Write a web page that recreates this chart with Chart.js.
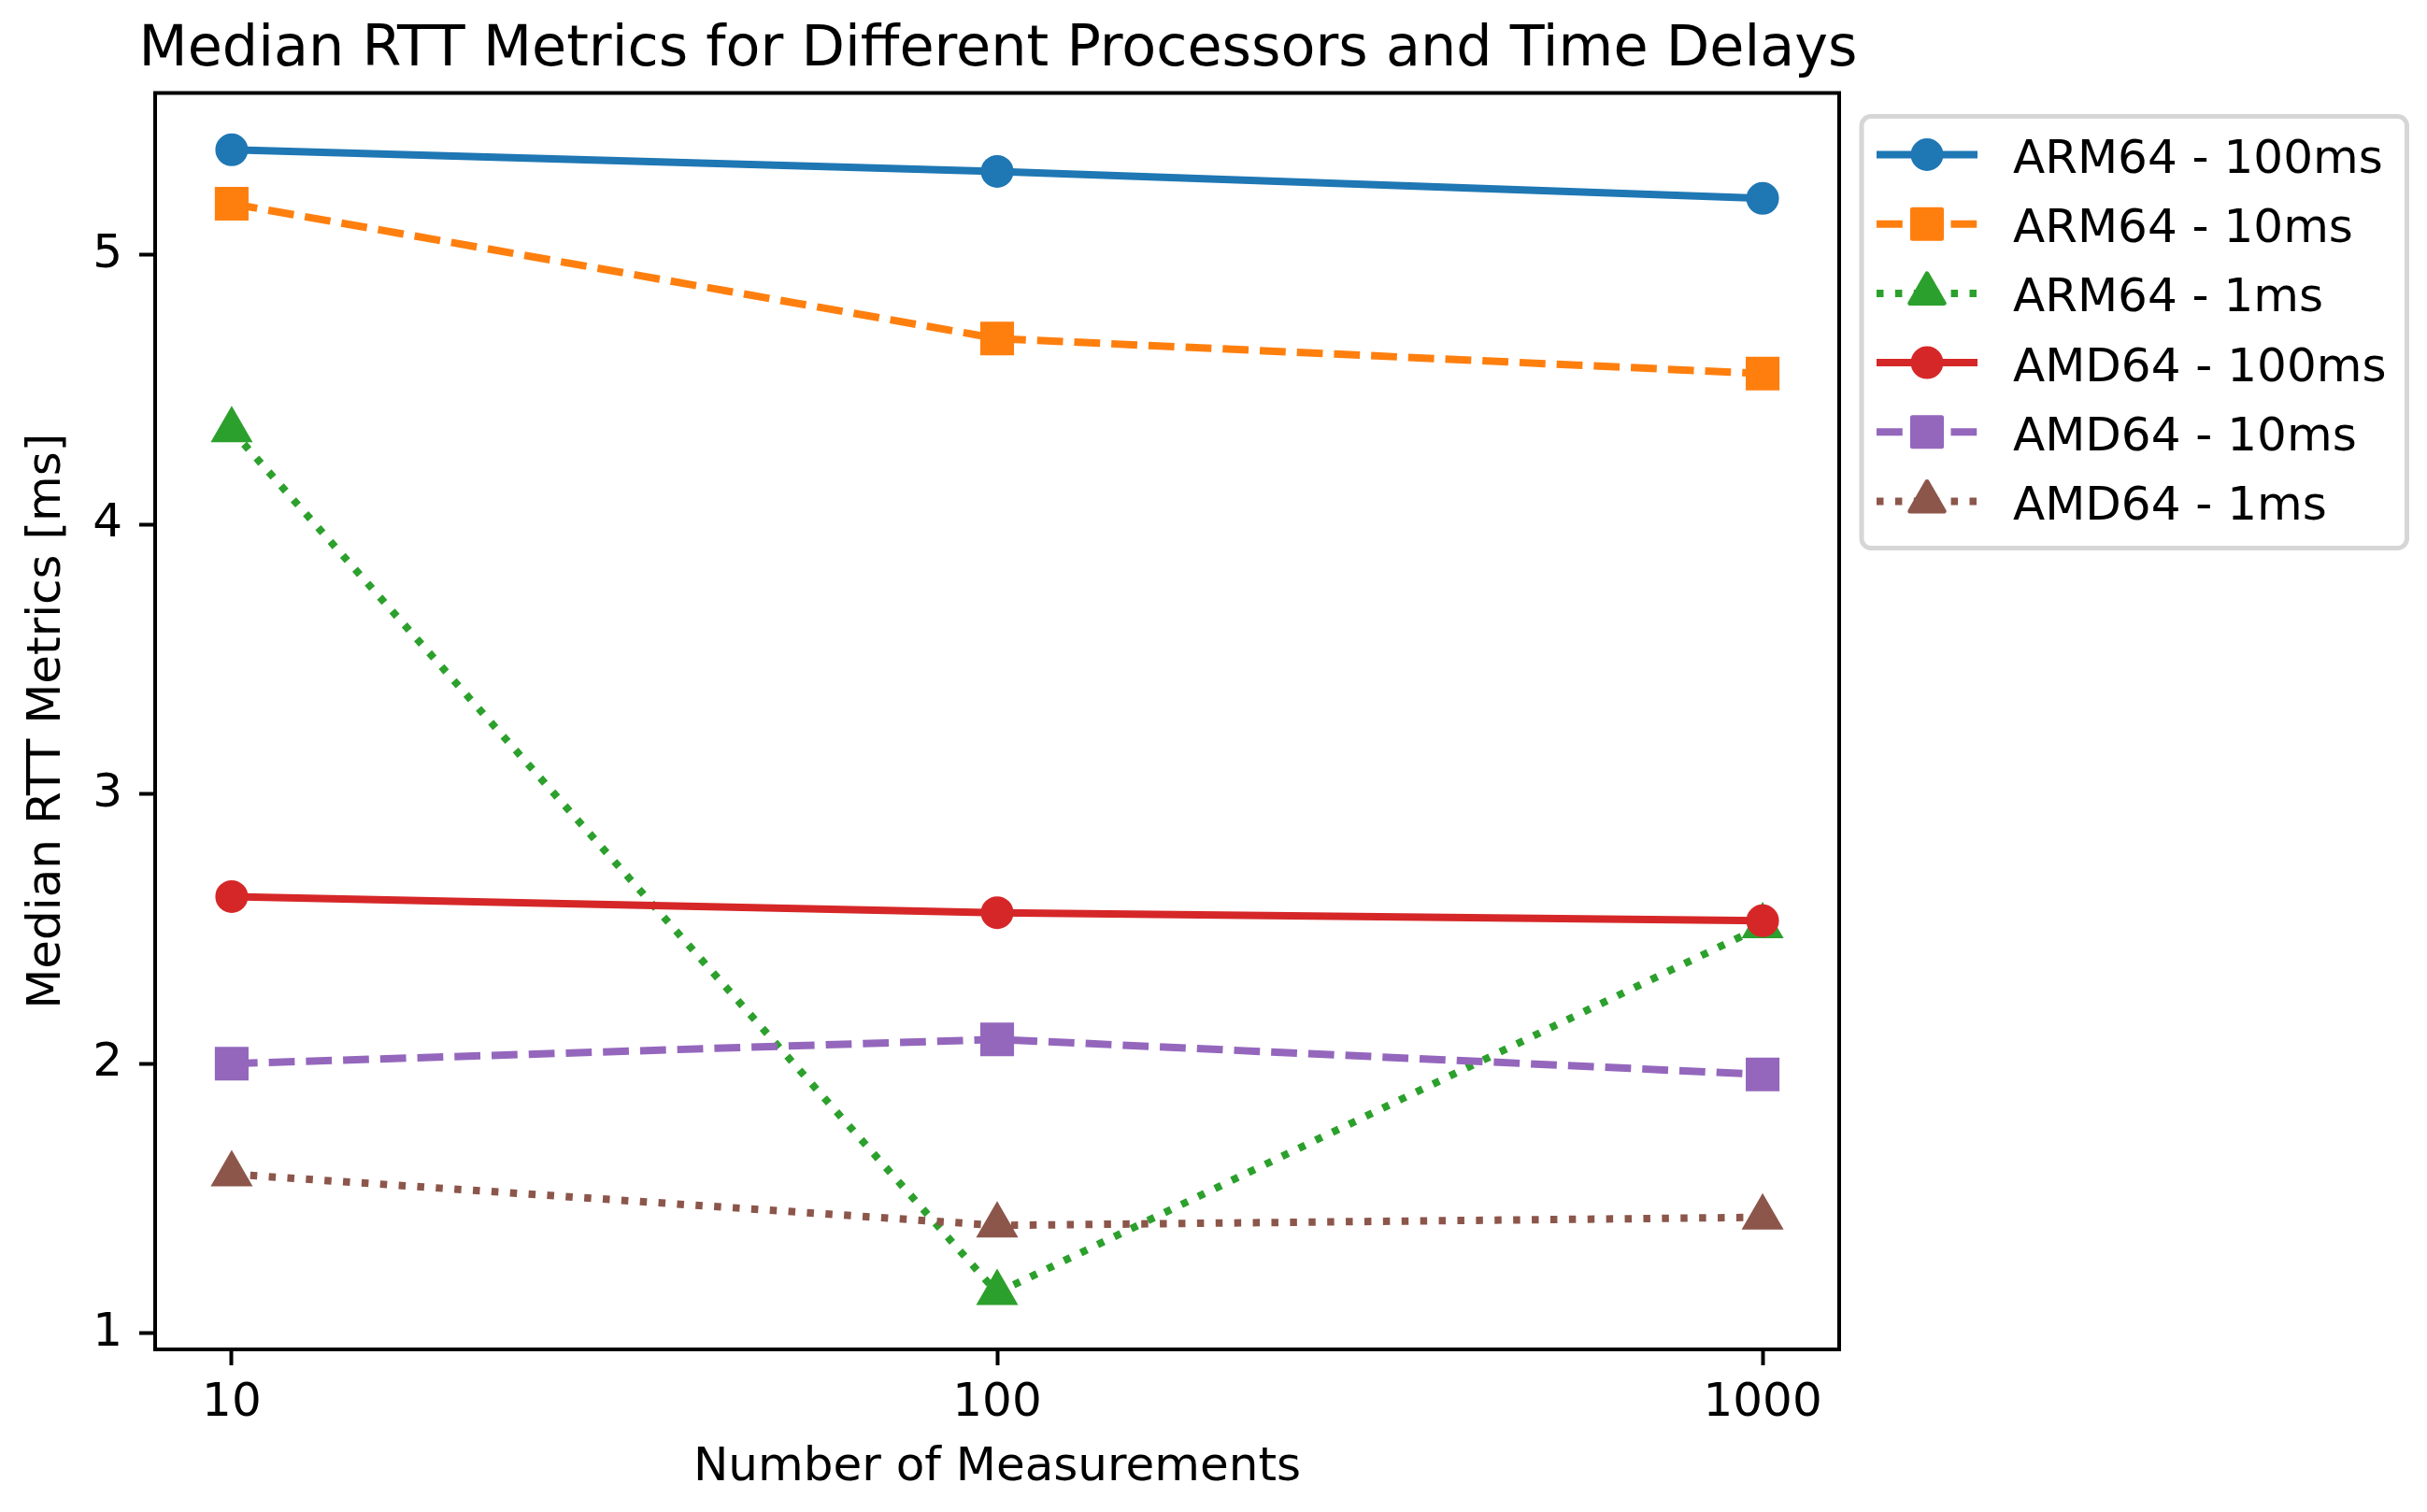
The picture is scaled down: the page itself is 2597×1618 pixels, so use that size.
<!DOCTYPE html>
<html>
<head>
<meta charset="utf-8">
<title>Median RTT Metrics</title>
<script src="https://cdn.jsdelivr.net/npm/chart.js@4.4.1/dist/chart.umd.min.js"></script>
<style>
    html, body { margin: 0; padding: 0; background: #fff; }
    canvas { display: block; }
</style>
</head>
<body>
<canvas id="rttChart" width="2597" height="1618"></canvas>
<script>
// Datos
const medidas = [10, 100, 1000];
const arm64_100ms = [5.39, 5.31, 5.21];
const arm64_10ms = [5.19, 4.69, 4.56];
const arm64_1ms = [4.35, 1.15, 2.51];
const amd64_100ms = [2.62, 2.56, 2.53];
const amd64_10ms = [2.00, 2.09, 1.96];
const amd64_1ms = [1.59, 1.40, 1.43];

const nombres = ['ARM64 - 100ms', 'ARM64 - 10ms', 'ARM64 - 1ms', 'AMD64 - 100ms', 'AMD64 - 10ms', 'AMD64 - 1ms'];
const valores = [arm64_100ms, arm64_10ms, arm64_1ms, amd64_100ms, amd64_10ms, amd64_1ms];

const xTicks = [10, 100, 1000];
const yTicks = [1, 2, 3, 4, 5];

const titulo = 'Median RTT Metrics for Different Processors and Time Delays';

// Estilo (paleta tab10 de matplotlib)
const colores = ['#1f77b4', '#ff7f0e', '#2ca02c', '#d62728', '#9467bd', '#8c564b'];
const trazos = [[], [27.75, 12], [7.5, 12.4], [], [27.75, 12], [7.5, 12.4]];
const marcadores = ['circle', 'rect', 'triangle', 'circle', 'rect', 'triangle'];
const radios = { circle: 15, rect: 22, triangle: 21 };

Chart.defaults.font.family = '"DejaVu Sans", sans-serif';
Chart.defaults.font.size = 50;
Chart.defaults.color = '#000';

// Marco completo alrededor del área (como los spines)
const marcoPlugin = {
    id: 'marco',
    afterDatasetsDraw(chart) {
        const { ctx, chartArea: a } = chart;
        ctx.save();
        ctx.strokeStyle = '#000';
        ctx.lineWidth = 4;
        ctx.strokeRect(a.left, a.top, a.right - a.left, a.bottom - a.top);
        ctx.restore();
    }
};

// Título centrado sobre los ejes, sin recorte de ancho
const tituloPlugin = {
    id: 'tituloEjes',
    afterDraw(chart) {
        const { ctx, chartArea: a } = chart;
        ctx.save();
        ctx.font = '60.4px "DejaVu Sans"';
        ctx.fillStyle = '#000';
        ctx.textAlign = 'center';
        ctx.textBaseline = 'alphabetic';
        ctx.fillText(titulo, (a.left + a.right) / 2 + 1, 70);
        ctx.restore();
    }
};

function dibujarMarcador(ctx, estilo, x, y) {
    if (Chart.helpers && Chart.helpers.drawPoint) {
        Chart.helpers.drawPoint(ctx, { pointStyle: estilo, radius: radios[estilo], borderWidth: 5, rotation: 0 }, x, y);
        return;
    }
    const r = radios[estilo];
    ctx.beginPath();
    if (estilo === 'circle') {
        ctx.arc(x, y, r, 0, Math.PI * 2);
    } else if (estilo === 'rect') {
        const s = r * Math.SQRT1_2;
        ctx.rect(x - s, y - s, 2 * s, 2 * s);
    } else {
        ctx.moveTo(x, y - r);
        ctx.lineTo(x + r * 0.866, y + r / 2);
        ctx.lineTo(x - r * 0.866, y + r / 2);
        ctx.closePath();
    }
    ctx.fill();
    ctx.stroke();
}

// Leyenda al estilo matplotlib: línea + marcador
const leyendaPlugin = {
    id: 'leyendaMpl',
    afterDraw(chart) {
        const { ctx, chartArea: a } = chart;
        const x0 = a.right + 24;
        const y0 = a.top + 25;
        ctx.save();
        ctx.font = '50px "DejaVu Sans"';
        const anchoTexto = Math.max(...nombres.map(n => ctx.measureText(n).width));
        const xLinea = x0 + 16;
        const largo = 108;
        const xTexto = xLinea + largo + 38;
        const ancho = xTexto - x0 + anchoTexto + 22;
        const alto = 462;
        const r = 10;

        ctx.beginPath();
        ctx.moveTo(x0 + r, y0);
        ctx.arcTo(x0 + ancho, y0, x0 + ancho, y0 + alto, r);
        ctx.arcTo(x0 + ancho, y0 + alto, x0, y0 + alto, r);
        ctx.arcTo(x0, y0 + alto, x0, y0, r);
        ctx.arcTo(x0, y0, x0 + ancho, y0, r);
        ctx.closePath();
        ctx.fillStyle = 'rgba(255,255,255,0.8)';
        ctx.fill();
        ctx.strokeStyle = '#d6d6d6';
        ctx.lineWidth = 5;
        ctx.stroke();

        nombres.forEach((nombre, i) => {
            const base = y0 + 60.5 + i * 74.2;
            const yl = base - 19.5;
            ctx.strokeStyle = colores[i];
            ctx.lineWidth = 8;
            ctx.lineJoin = 'round';
            ctx.setLineDash(trazos[i]);
            ctx.beginPath();
            ctx.moveTo(xLinea, yl);
            ctx.lineTo(xLinea + largo, yl);
            ctx.stroke();
            ctx.setLineDash([]);

            ctx.fillStyle = colores[i];
            ctx.lineWidth = 5;
            dibujarMarcador(ctx, marcadores[i], xLinea + largo / 2, yl);

            ctx.fillStyle = '#000';
            ctx.textAlign = 'left';
            ctx.textBaseline = 'alphabetic';
            ctx.fillText(nombre, xTexto, base);
        });
        ctx.restore();
    }
};

const datasets = nombres.map((nombre, i) => ({
    label: nombre,
    data: medidas.map((m, j) => ({ x: m, y: valores[i][j] })),
    borderColor: colores[i],
    backgroundColor: colores[i],
    borderWidth: 8,
    borderDash: trazos[i],
    borderJoinStyle: 'round',
    fill: false,
    tension: 0,
    pointStyle: marcadores[i],
    pointRadius: radios[marcadores[i]],
    pointHoverRadius: radios[marcadores[i]],
    pointBackgroundColor: colores[i],
    pointBorderColor: colores[i],
    pointBorderWidth: 5,
    order: nombres.length - i
}));

new Chart(document.getElementById('rttChart').getContext('2d'), {
    type: 'line',
    data: { datasets: datasets },
    options: {
        responsive: false,
        devicePixelRatio: 1,
        animation: false,
        events: [],
        layout: { padding: { left: 0, right: 629, top: 99.5, bottom: 0 } },
        plugins: {
            legend: { display: false },
            tooltip: { enabled: false },
            title: { display: false }
        },
        scales: {
            x: {
                type: 'logarithmic',
                min: Math.pow(10, 0.9),
                max: Math.pow(10, 3.1),
                afterFit: s => { s.height = 174; },
                afterBuildTicks: s => { s.ticks = xTicks.map(v => ({ value: v })); },
                ticks: { padding: 11, color: '#000', autoSkip: false, maxRotation: 0, callback: v => String(v) },
                grid: { display: true, drawOnChartArea: false, drawTicks: true, tickLength: 17, tickWidth: 4, tickColor: '#000' },
                border: { display: true, color: '#000', width: 4 },
                title: { display: true, text: 'Number of Measurements', color: '#000', padding: { top: 0, bottom: 17 } }
            },
            y: {
                type: 'linear',
                min: 0.940,
                max: 5.601,
                afterFit: s => { s.width = 166; },
                afterBuildTicks: s => { s.ticks = yTicks.map(v => ({ value: v })); },
                ticks: { padding: 18, color: '#000', callback: v => String(v) },
                grid: { display: true, drawOnChartArea: false, drawTicks: true, tickLength: 17, tickWidth: 4, tickColor: '#000' },
                border: { display: true, color: '#000', width: 4 },
                title: { display: true, text: 'Median RTT Metrics [ms]', color: '#000', padding: { top: 21, bottom: 0 } }
            }
        }
    },
    plugins: [marcoPlugin, tituloPlugin, leyendaPlugin]
});
</script>
</body>
</html>
